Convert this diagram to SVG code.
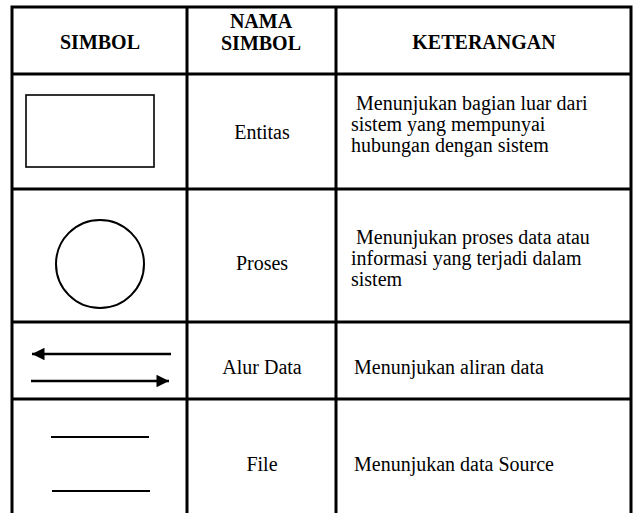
<svg xmlns="http://www.w3.org/2000/svg" width="633" height="513" viewBox="0 0 633 513">
  <defs>
    <style>
      .grid { stroke: #000; stroke-width: 3; fill: none; }
      text { font-family: 'Liberation Serif', 'Times New Roman', serif; font-size: 20px; fill: #000; }
      .hd { font-weight: bold; text-anchor: middle; }
      .nm { text-anchor: middle; }
      .sym { stroke: #000; fill: none; }
    </style>
    <marker id="head" viewBox="0 0 10 10" refX="10" refY="5" markerWidth="6" markerHeight="5" markerUnits="strokeWidth" orient="auto">
      <path d="M0,0 L10,5 L0,10 Z" fill="#000"/>
    </marker>
  </defs>

  <rect width="633" height="513" fill="#fff"/>

  <!-- table grid -->
  <g id="grid">
    <path class="grid" d="M12,513 V7 H631 V513"/>
    <line class="grid" x1="12" y1="74" x2="631" y2="74"/>
    <line class="grid" x1="12" y1="189" x2="631" y2="189"/>
    <line class="grid" x1="12" y1="322" x2="631" y2="322"/>
    <line class="grid" x1="12" y1="399" x2="631" y2="399"/>
    <line class="grid" x1="187" y1="7" x2="187" y2="513"/>
    <line class="grid" x1="336" y1="7" x2="336" y2="513"/>
  </g>

  <!-- header -->
  <g id="header">
    <text class="hd" x="100" y="49">SIMBOL</text>
    <text class="hd" x="261" y="28">NAMA</text>
    <text class="hd" x="261" y="50">SIMBOL</text>
    <text class="hd" x="484" y="49">KETERANGAN</text>
  </g>

  <!-- row: entity -->
  <g id="entitas">
    <rect class="sym" x="26" y="95" width="128" height="72" stroke-width="1.6"/>
    <text class="nm" x="262" y="139">Entitas</text>
    <text x="356" y="110">Menunjukan bagian luar dari</text>
    <text x="351" y="131">sistem yang mempunyai</text>
    <text x="351" y="152">hubungan dengan sistem</text>
  </g>

  <!-- row: process -->
  <g id="proses">
    <circle class="sym" cx="100" cy="264" r="44" stroke-width="2"/>
    <text class="nm" x="262" y="270">Proses</text>
    <text x="356" y="244">Menunjukan proses data atau</text>
    <text x="351" y="265">informasi yang terjadi dalam</text>
    <text x="351" y="286">sistem</text>
  </g>

  <!-- row: data flow -->
  <g id="alur-data">
    <text class="nm" x="262" y="374">Alur Data</text>
    <text x="354" y="374">Menunjukan aliran data</text>
  </g>

  <!-- row: file -->
  <g id="file">
    <line class="sym" x1="51" y1="437" x2="149" y2="437" stroke-width="2"/>
    <line class="sym" x1="52" y1="491" x2="150" y2="491" stroke-width="2"/>
    <text class="nm" x="262" y="471">File</text>
    <text x="354" y="471">Menunjukan data Source</text>
  </g>

  <!-- data-flow arrows -->
  <g id="connectors">
    <line class="sym" x1="171" y1="354" x2="32" y2="354" stroke-width="2.5" marker-end="url(#head)"/>
    <line class="sym" x1="31" y1="381" x2="169" y2="381" stroke-width="2.5" marker-end="url(#head)"/>
  </g>
</svg>
